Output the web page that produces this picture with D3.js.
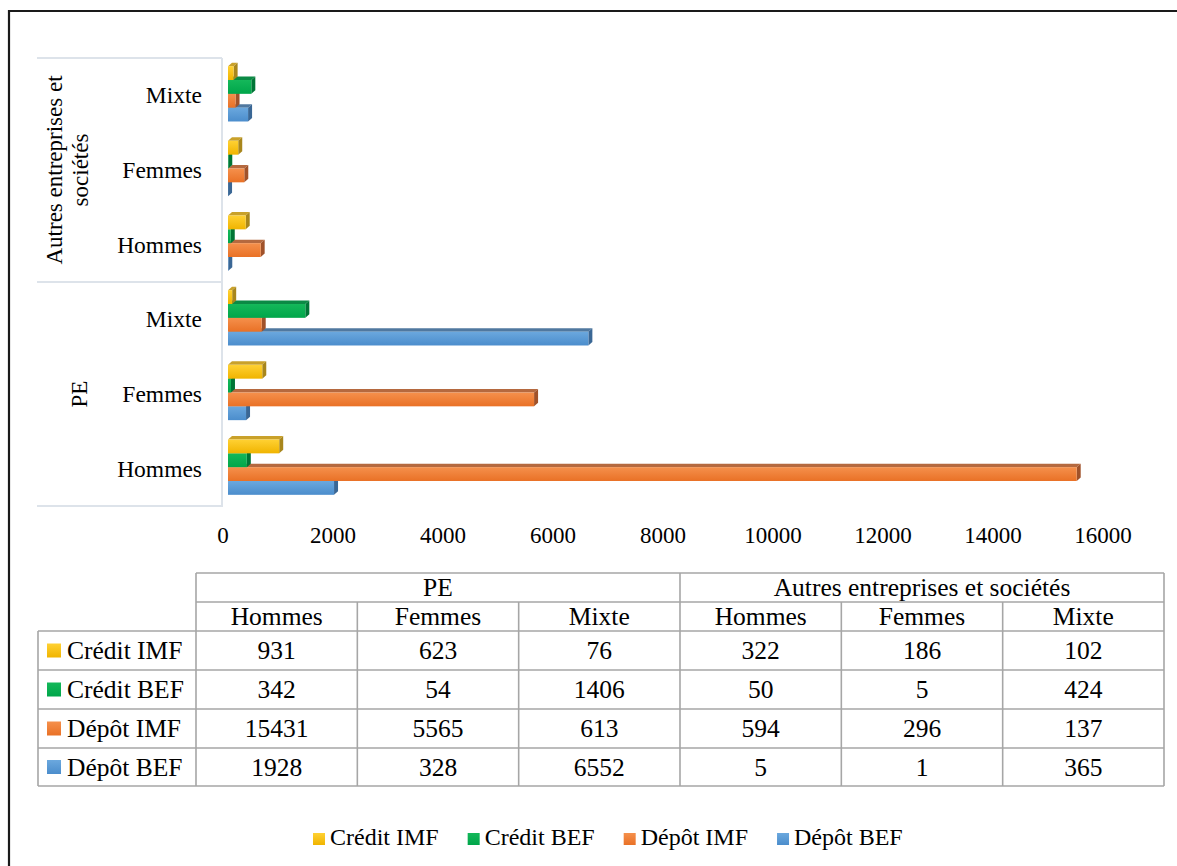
<!DOCTYPE html>
<html>
<head>
<meta charset="utf-8">
<script src="https://cdn.jsdelivr.net/npm/d3@7"></script>
<style>
  body { margin: 0; background: #fff; }
</style>
</head>
<body>
<svg id="chart" width="1177" height="866"></svg>
<script>
// data
const groups = ["PE", "Autres entreprises et sociétés"];
const genders = ["Hommes", "Femmes", "Mixte"];
const seriesNames = ["Crédit IMF", "Crédit BEF", "Dépôt IMF", "Dépôt BEF"];
const creditIMF = [931, 623, 76, 322, 186, 102];
const creditBEF = [342, 54, 1406, 50, 5, 424];
const depotIMF = [15431, 5565, 613, 594, 296, 137];
const depotBEF = [1928, 328, 6552, 5, 1, 365];
const xTicks = [0, 2000, 4000, 6000, 8000, 10000, 12000, 14000, 16000];

const seriesValues = [creditIMF, creditBEF, depotIMF, depotBEF];
const colors = {
  "Crédit IMF": { light: "#ffd133", dark: "#f0b400", top: "#c9a12a", side: "#a8861c" },
  "Crédit BEF": { light: "#14b85a", dark: "#00a64a", top: "#0b8a45", side: "#007536" },
  "Dépôt IMF":  { light: "#f5904c", dark: "#e97126", top: "#b5693f", side: "#a0522a" },
  "Dépôt BEF":  { light: "#6ba8de", dark: "#4b8dcc", top: "#50789f", side: "#3a6795" }
};
const FONT = "'Liberation Serif', 'DejaVu Serif', serif";

var svg = d3.select("#chart")
    .attr("font-family", FONT);
var width = +svg.attr("width");
var height = +svg.attr("height");

// page frame (only top and left visible)
svg.append("path")
    .attr("d", `M9,${height + 5} L9,11 L${width + 5},11`)
    .style("fill", "none")
    .style("stroke", "#1a1a1a")
    .style("stroke-width", 2.2);

// categories: PE first (bottom), autres last (top)
const cats = [];
groups.forEach((g, gi) => genders.forEach((c, ci) => cats.push({ group: g, gender: c, idx: gi * 3 + ci })));

const plotTop = 58, plotBottom = 506, axisX = 222;
const x = d3.scaleLinear().domain([0, 16000]).range([228, 1108]);
const y = d3.scaleBand()
    .domain(cats.map(d => d.idx).slice().reverse())
    .range([plotTop, plotBottom])
    .padding(0);
const ySub = d3.scaleBand()
    .domain(seriesNames)
    .range([0, y.bandwidth()])
    .paddingOuter(0.7)
    .paddingInner(0);

// gradients for the front faces
const defs = svg.append("defs");
seriesNames.forEach((s, i) => {
  const grad = defs.append("linearGradient")
      .attr("id", "g" + i)
      .attr("x1", 0).attr("y1", 0).attr("x2", 0).attr("y2", 1);
  grad.append("stop").attr("offset", "0%").attr("stop-color", colors[s].light);
  grad.append("stop").attr("offset", "100%").attr("stop-color", colors[s].dark);
});

// axis lines
svg.append("line")
    .attr("x1", axisX).attr("x2", axisX)
    .attr("y1", plotTop).attr("y2", plotBottom + 1)
    .style("stroke", "#dde3ea").style("stroke-width", 2);
[plotTop, plotTop + (plotBottom - plotTop) / 2, plotBottom].forEach(v => {
  svg.append("line")
      .attr("x1", 37).attr("x2", axisX)
      .attr("y1", v).attr("y2", v)
      .style("stroke", "#dde3ea").style("stroke-width", 2);
});

// category labels
svg.selectAll(".cat")
    .data(cats)
    .enter()
    .append("text")
    .attr("class", "cat")
    .attr("x", 202)
    .attr("y", d => y(d.idx) + y.bandwidth() / 2 + 8)
    .attr("text-anchor", "end")
    .attr("font-size", 23.5)
    .text(d => d.gender);

// group labels (rotated)
const groupLines = [["PE"], ["Autres entreprises et", "sociétés"]];
groups.forEach((g, gi) => {
  const idxs = cats.filter(d => d.group === g).map(d => d.idx);
  const y0 = d3.min(idxs, i => y(i));
  const y1 = d3.max(idxs, i => y(i) + y.bandwidth());
  const cy = (y0 + y1) / 2;
  const lines = groupLines[gi];
  const baseX = lines.length === 1 ? [87] : [62, 88];
  lines.forEach((ln, li) => {
    svg.append("text")
        .attr("transform", `translate(${baseX[li]},${cy}) rotate(-90)`)
        .attr("text-anchor", "middle")
        .attr("font-size", 23)
        .text(ln);
  });
});

// x tick labels
svg.selectAll(".tick-label")
    .data(xTicks)
    .enter()
    .append("text")
    .attr("class", "tick-label")
    .attr("x", d => x(d) - 5)
    .attr("y", 543)
    .attr("text-anchor", "middle")
    .attr("font-size", 23)
    .text(d => d);

// 3D bars
const dx = 4, dy = 3.5;
const barData = [];
cats.forEach(c => {
  // draw bottom series first so upper bars cover their top faces
  for (let si = seriesNames.length - 1; si >= 0; si--) {
    barData.push({ cat: c.idx, series: seriesNames[si], si: si, value: seriesValues[si][c.idx] });
  }
});
const barG = svg.selectAll(".bar3d")
    .data(barData)
    .enter()
    .append("g")
    .attr("class", "bar3d");
function geo(d) {
  const x0 = x(0), x1 = x(d.value);
  const y0 = y(d.cat) + ySub(d.series) - 1.5;
  const y1 = y0 + ySub.bandwidth();
  return { x0, x1, y0, y1 };
}
barG.append("path")
    .attr("d", d => {
      const g = geo(d);
      return `M${g.x0},${g.y0} L${g.x0 + dx},${g.y0 - dy} L${g.x1 + dx},${g.y0 - dy} L${g.x1},${g.y0} Z`;
    })
    .style("fill", d => colors[d.series].top);
barG.append("path")
    .attr("d", d => {
      const g = geo(d);
      return `M${g.x1},${g.y0} L${g.x1 + dx},${g.y0 - dy} L${g.x1 + dx},${g.y1 - dy} L${g.x1},${g.y1} Z`;
    })
    .style("fill", d => colors[d.series].side);
barG.append("rect")
    .attr("x", d => geo(d).x0)
    .attr("y", d => geo(d).y0)
    .attr("width", d => Math.max(0, geo(d).x1 - geo(d).x0))
    .attr("height", ySub.bandwidth())
    .style("fill", d => "url(#g" + d.si + ")");

// data table
const tL = 38, tLab = 196, tR = 1164;
const rowY = [573, 602, 631, 670, 709, 748, 786];
const colW = (tR - tLab) / 6;
const colX = d3.range(7).map(i => tLab + i * colW);
const lineColor = "#a6a6a6";
const table = svg.append("g").attr("class", "table")
    .attr("font-size", 25.5);
function tline(x1, y1, x2, y2) {
  table.append("line")
      .attr("x1", x1).attr("y1", y1).attr("x2", x2).attr("y2", y2)
      .style("stroke", lineColor).style("stroke-width", 1.6);
}
tline(tLab, rowY[0], tR, rowY[0]);
tline(tLab, rowY[1], tR, rowY[1]);
for (let r = 2; r < rowY.length; r++) tline(tL, rowY[r], tR, rowY[r]);
tline(tL, rowY[2], tL, rowY[6]);
tline(tLab, rowY[0], tLab, rowY[6]);
tline(colX[3], rowY[0], colX[3], rowY[6]);
tline(tR, rowY[0], tR, rowY[6]);
[1, 2, 4, 5].forEach(i => tline(colX[i], rowY[1], colX[i], rowY[6]));

// group headers
groups.forEach((g, gi) => {
  table.append("text")
      .attr("x", (colX[gi * 3] + colX[gi * 3 + 3]) / 2)
      .attr("y", (rowY[0] + rowY[1]) / 2 + 8.5)
      .attr("text-anchor", "middle")
      .text(g);
});
// gender headers
cats.forEach((c, i) => {
  table.append("text")
      .attr("x", (colX[i] + colX[i + 1]) / 2)
      .attr("y", (rowY[1] + rowY[2]) / 2 + 8.5)
      .attr("text-anchor", "middle")
      .text(c.gender);
});
// rows
seriesNames.forEach((s, si) => {
  const cy = (rowY[si + 2] + rowY[si + 3]) / 2;
  table.append("rect")
      .attr("x", 47).attr("y", cy - 7)
      .attr("width", 14).attr("height", 14)
      .style("fill", "url(#g" + si + ")");
  table.append("text")
      .attr("x", 67)
      .attr("y", cy + 8.5)
      .text(s);
  seriesValues[si].forEach((v, i) => {
    table.append("text")
        .attr("x", (colX[i] + colX[i + 1]) / 2)
        .attr("y", cy + 8.5)
        .attr("text-anchor", "middle")
        .text(v);
  });
});

// legend
const legend = svg.append("g").attr("class", "legend")
    .attr("font-size", 24);
let lx = 313;
seriesNames.forEach((s, si) => {
  legend.append("rect")
      .attr("x", lx).attr("y", 833)
      .attr("width", 12).attr("height", 12)
      .style("fill", "url(#g" + si + ")");
  const t = legend.append("text")
      .attr("x", lx + 17)
      .attr("y", 845)
      .text(s);
  lx += 17 + t.node().getComputedTextLength() + 29;
});
</script>
</body>
</html>
